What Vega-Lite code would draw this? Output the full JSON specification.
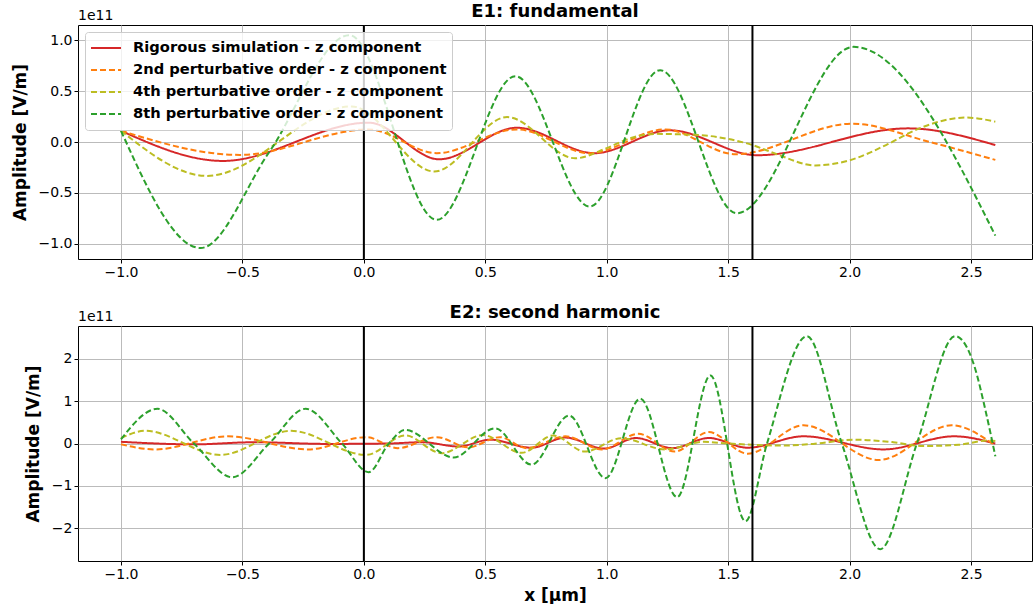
{
  "$schema": "https://vega.github.io/schema/vega-lite/v6.json",
  "padding": {"left": 10, "top": 2, "right": 0, "bottom": 0},
  "config": {
    "font": "DejaVu Sans",
    "view": {"stroke": "black", "strokeWidth": 1},
    "axis": {
      "labelFont": "DejaVu Sans", "labelFontSize": 14, "labelColor": "black",
      "tickColor": "black", "tickSize": 4, "tickWidth": 1,
      "gridColor": "#bbbbbb", "gridWidth": 1,
      "domain": false,
      "titleFont": "DejaVu Sans", "titleFontSize": 17, "titleFontWeight": "bold", "titleColor": "black"
    },
    "title": {"font": "DejaVu Sans", "fontSize": 18, "fontWeight": "bold", "color": "black", "offset": -12, "frame": "group"}
  },
  "datasets": {
    "e1": [
      {"s": "Rigorous simulation - z component", "x": -1.0, "y": 0.11},
      {"s": "Rigorous simulation - z component", "x": -0.58, "y": -0.186},
      {"s": "Rigorous simulation - z component", "x": 0.02, "y": 0.19},
      {"s": "Rigorous simulation - z component", "x": 0.31, "y": -0.17},
      {"s": "Rigorous simulation - z component", "x": 0.63, "y": 0.14},
      {"s": "Rigorous simulation - z component", "x": 0.95, "y": -0.11},
      {"s": "Rigorous simulation - z component", "x": 1.26, "y": 0.115},
      {"s": "Rigorous simulation - z component", "x": 1.62, "y": -0.13},
      {"s": "Rigorous simulation - z component", "x": 2.24, "y": 0.134},
      {"s": "Rigorous simulation - z component", "x": 2.6, "y": -0.03},
      {"s": "2nd perturbative order - z component", "x": -1.0, "y": 0.11},
      {"s": "2nd perturbative order - z component", "x": -0.51, "y": -0.127},
      {"s": "2nd perturbative order - z component", "x": 0.02, "y": 0.124},
      {"s": "2nd perturbative order - z component", "x": 0.30, "y": -0.11},
      {"s": "2nd perturbative order - z component", "x": 0.63, "y": 0.124},
      {"s": "2nd perturbative order - z component", "x": 0.93, "y": -0.11},
      {"s": "2nd perturbative order - z component", "x": 1.24, "y": 0.124},
      {"s": "2nd perturbative order - z component", "x": 1.53, "y": -0.12},
      {"s": "2nd perturbative order - z component", "x": 2.01, "y": 0.18},
      {"s": "2nd perturbative order - z component", "x": 2.33, "y": 0.0},
      {"s": "2nd perturbative order - z component", "x": 2.6, "y": -0.176},
      {"s": "4th perturbative order - z component", "x": -1.0, "y": 0.11},
      {"s": "4th perturbative order - z component", "x": -0.645, "y": -0.333},
      {"s": "4th perturbative order - z component", "x": -0.05, "y": 0.35},
      {"s": "4th perturbative order - z component", "x": 0.29, "y": -0.29},
      {"s": "4th perturbative order - z component", "x": 0.59, "y": 0.245},
      {"s": "4th perturbative order - z component", "x": 0.87, "y": -0.16},
      {"s": "4th perturbative order - z component", "x": 1.0, "y": -0.06},
      {"s": "4th perturbative order - z component", "x": 1.1, "y": 0.04},
      {"s": "4th perturbative order - z component", "x": 1.2, "y": 0.08},
      {"s": "4th perturbative order - z component", "x": 1.3, "y": 0.075},
      {"s": "4th perturbative order - z component", "x": 1.42, "y": 0.06},
      {"s": "4th perturbative order - z component", "x": 1.5, "y": 0.03},
      {"s": "4th perturbative order - z component", "x": 1.6, "y": -0.03},
      {"s": "4th perturbative order - z component", "x": 1.7, "y": -0.12},
      {"s": "4th perturbative order - z component", "x": 1.86, "y": -0.23},
      {"s": "4th perturbative order - z component", "x": 2.0, "y": -0.18},
      {"s": "4th perturbative order - z component", "x": 2.15, "y": -0.03},
      {"s": "4th perturbative order - z component", "x": 2.28, "y": 0.127},
      {"s": "4th perturbative order - z component", "x": 2.48, "y": 0.24},
      {"s": "4th perturbative order - z component", "x": 2.6, "y": 0.2},
      {"s": "8th perturbative order - z component", "x": -1.0, "y": 0.11},
      {"s": "8th perturbative order - z component", "x": -0.672, "y": -1.042},
      {"s": "8th perturbative order - z component", "x": -0.39, "y": -0.1},
      {"s": "8th perturbative order - z component", "x": -0.06, "y": 1.05},
      {"s": "8th perturbative order - z component", "x": 0.3, "y": -0.765},
      {"s": "8th perturbative order - z component", "x": 0.624, "y": 0.647},
      {"s": "8th perturbative order - z component", "x": 0.93, "y": -0.634},
      {"s": "8th perturbative order - z component", "x": 1.22, "y": 0.706},
      {"s": "8th perturbative order - z component", "x": 1.535, "y": -0.70},
      {"s": "8th perturbative order - z component", "x": 2.016, "y": 0.935},
      {"s": "8th perturbative order - z component", "x": 2.6, "y": -0.92}
    ],
    "e2": [
      {"s": "Rigorous simulation - z component", "x": -1.0, "y": 0.04},
      {"s": "Rigorous simulation - z component", "x": -0.7, "y": -0.02},
      {"s": "Rigorous simulation - z component", "x": -0.45, "y": 0.03},
      {"s": "Rigorous simulation - z component", "x": -0.15, "y": -0.01},
      {"s": "Rigorous simulation - z component", "x": 0.1, "y": 0.0},
      {"s": "Rigorous simulation - z component", "x": 0.24, "y": 0.03},
      {"s": "Rigorous simulation - z component", "x": 0.39, "y": -0.07},
      {"s": "Rigorous simulation - z component", "x": 0.52, "y": 0.09},
      {"s": "Rigorous simulation - z component", "x": 0.69, "y": -0.1},
      {"s": "Rigorous simulation - z component", "x": 0.83, "y": 0.14},
      {"s": "Rigorous simulation - z component", "x": 0.99, "y": -0.12},
      {"s": "Rigorous simulation - z component", "x": 1.12, "y": 0.13},
      {"s": "Rigorous simulation - z component", "x": 1.27, "y": -0.11},
      {"s": "Rigorous simulation - z component", "x": 1.42, "y": 0.13},
      {"s": "Rigorous simulation - z component", "x": 1.58, "y": -0.1},
      {"s": "Rigorous simulation - z component", "x": 1.81, "y": 0.17},
      {"s": "Rigorous simulation - z component", "x": 2.14, "y": -0.14},
      {"s": "Rigorous simulation - z component", "x": 2.43, "y": 0.17},
      {"s": "Rigorous simulation - z component", "x": 2.6, "y": 0.0},
      {"s": "2nd perturbative order - z component", "x": -1.0, "y": -0.02},
      {"s": "2nd perturbative order - z component", "x": -0.86, "y": -0.14},
      {"s": "2nd perturbative order - z component", "x": -0.56, "y": 0.17},
      {"s": "2nd perturbative order - z component", "x": -0.23, "y": -0.14},
      {"s": "2nd perturbative order - z component", "x": 0.01, "y": 0.15},
      {"s": "2nd perturbative order - z component", "x": 0.14, "y": -0.11},
      {"s": "2nd perturbative order - z component", "x": 0.30, "y": 0.15},
      {"s": "2nd perturbative order - z component", "x": 0.43, "y": -0.09},
      {"s": "2nd perturbative order - z component", "x": 0.56, "y": 0.15},
      {"s": "2nd perturbative order - z component", "x": 0.67, "y": -0.11},
      {"s": "2nd perturbative order - z component", "x": 0.83, "y": 0.17},
      {"s": "2nd perturbative order - z component", "x": 0.98, "y": -0.14},
      {"s": "2nd perturbative order - z component", "x": 1.13, "y": 0.23},
      {"s": "2nd perturbative order - z component", "x": 1.28, "y": -0.19},
      {"s": "2nd perturbative order - z component", "x": 1.42, "y": 0.27},
      {"s": "2nd perturbative order - z component", "x": 1.58, "y": -0.24},
      {"s": "2nd perturbative order - z component", "x": 1.81, "y": 0.43},
      {"s": "2nd perturbative order - z component", "x": 2.12, "y": -0.39},
      {"s": "2nd perturbative order - z component", "x": 2.42, "y": 0.43},
      {"s": "2nd perturbative order - z component", "x": 2.6, "y": -0.05},
      {"s": "4th perturbative order - z component", "x": -1.0, "y": 0.13},
      {"s": "4th perturbative order - z component", "x": -0.9, "y": 0.3},
      {"s": "4th perturbative order - z component", "x": -0.59, "y": -0.27},
      {"s": "4th perturbative order - z component", "x": -0.30, "y": 0.3},
      {"s": "4th perturbative order - z component", "x": 0.01, "y": -0.27},
      {"s": "4th perturbative order - z component", "x": 0.17, "y": 0.19},
      {"s": "4th perturbative order - z component", "x": 0.32, "y": -0.23},
      {"s": "4th perturbative order - z component", "x": 0.49, "y": 0.2},
      {"s": "4th perturbative order - z component", "x": 0.65, "y": -0.22},
      {"s": "4th perturbative order - z component", "x": 0.78, "y": 0.19},
      {"s": "4th perturbative order - z component", "x": 0.91, "y": -0.19},
      {"s": "4th perturbative order - z component", "x": 1.06, "y": 0.125},
      {"s": "4th perturbative order - z component", "x": 1.24, "y": -0.14},
      {"s": "4th perturbative order - z component", "x": 1.4, "y": 0.04},
      {"s": "4th perturbative order - z component", "x": 1.5, "y": 0.0},
      {"s": "4th perturbative order - z component", "x": 1.6, "y": -0.03},
      {"s": "4th perturbative order - z component", "x": 1.72, "y": -0.05},
      {"s": "4th perturbative order - z component", "x": 1.85, "y": -0.01},
      {"s": "4th perturbative order - z component", "x": 2.02, "y": 0.09},
      {"s": "4th perturbative order - z component", "x": 2.18, "y": 0.03},
      {"s": "4th perturbative order - z component", "x": 2.3, "y": -0.06},
      {"s": "4th perturbative order - z component", "x": 2.45, "y": -0.03},
      {"s": "4th perturbative order - z component", "x": 2.57, "y": 0.07},
      {"s": "4th perturbative order - z component", "x": 2.6, "y": 0.06},
      {"s": "8th perturbative order - z component", "x": -1.0, "y": 0.1},
      {"s": "8th perturbative order - z component", "x": -0.85, "y": 0.82},
      {"s": "8th perturbative order - z component", "x": -0.70, "y": 0.0},
      {"s": "8th perturbative order - z component", "x": -0.542, "y": -0.8},
      {"s": "8th perturbative order - z component", "x": -0.39, "y": 0.0},
      {"s": "8th perturbative order - z component", "x": -0.24, "y": 0.82},
      {"s": "8th perturbative order - z component", "x": -0.09, "y": 0.0},
      {"s": "8th perturbative order - z component", "x": 0.02, "y": -0.68},
      {"s": "8th perturbative order - z component", "x": 0.103, "y": 0.0},
      {"s": "8th perturbative order - z component", "x": 0.17, "y": 0.32},
      {"s": "8th perturbative order - z component", "x": 0.37, "y": -0.33},
      {"s": "8th perturbative order - z component", "x": 0.54, "y": 0.36},
      {"s": "8th perturbative order - z component", "x": 0.69, "y": -0.5},
      {"s": "8th perturbative order - z component", "x": 0.845, "y": 0.66},
      {"s": "8th perturbative order - z component", "x": 0.995, "y": -0.82},
      {"s": "8th perturbative order - z component", "x": 1.138, "y": 1.06},
      {"s": "8th perturbative order - z component", "x": 1.29, "y": -1.27},
      {"s": "8th perturbative order - z component", "x": 1.427, "y": 1.61},
      {"s": "8th perturbative order - z component", "x": 1.571, "y": -1.84},
      {"s": "8th perturbative order - z component", "x": 1.66, "y": 0.0},
      {"s": "8th perturbative order - z component", "x": 1.824, "y": 2.54},
      {"s": "8th perturbative order - z component", "x": 1.968, "y": 0.0},
      {"s": "8th perturbative order - z component", "x": 2.126, "y": -2.5},
      {"s": "8th perturbative order - z component", "x": 2.277, "y": 0.0},
      {"s": "8th perturbative order - z component", "x": 2.435, "y": 2.54},
      {"s": "8th perturbative order - z component", "x": 2.517, "y": 1.77},
      {"s": "8th perturbative order - z component", "x": 2.558, "y": 0.82},
      {"s": "8th perturbative order - z component", "x": 2.6, "y": -0.3}
    ]
  },
  "vconcat": [
    {
      "title": "E1: fundamental",
      "width": 954,
      "height": 234,
      "layer": [
        {
          "data": {"name": "e1"},
          "mark": {"type": "line", "interpolate": "monotone", "strokeWidth": 2},
          "encoding": {
            "x": {"field": "x", "type": "quantitative", "scale": {"domain": [-1.177, 2.751], "nice": false, "zero": false},
                  "axis": {"values": [-1, -0.5, 0, 0.5, 1, 1.5, 2, 2.5], "format": ".1f", "title": null}},
            "y": {"field": "y", "type": "quantitative", "scale": {"domain": [-1.15, 1.15], "nice": false, "zero": false},
                  "axis": {"values": [-1, -0.5, 0, 0.5, 1], "format": ".1f", "title": "Amplitude [V/m]", "titlePadding": 9}},
            "color": {"field": "s", "type": "nominal",
                      "scale": {"domain": ["Rigorous simulation - z component", "2nd perturbative order - z component", "4th perturbative order - z component", "8th perturbative order - z component"],
                                "range": ["#d62728", "#ff7f0e", "#bcbd22", "#2ca02c"]},
                      "legend": {"orient": "top-left", "offset": 7, "title": null, "labelFontWeight": "bold", "labelFontSize": 14.7, "labelColor": "black",
                                 "symbolType": "stroke", "symbolSize": 900, "symbolStrokeWidth": 2, "fillColor": "rgba(255,255,255,0.8)",
                                 "strokeColor": "#cccccc", "cornerRadius": 3, "padding": 5, "rowPadding": 0, "clipHeight": 22, "labelOffset": 11, "labelLimit": 500}},
            "strokeDash": {"field": "s", "type": "nominal",
                      "scale": {"domain": ["Rigorous simulation - z component", "2nd perturbative order - z component", "4th perturbative order - z component", "8th perturbative order - z component"],
                                "range": [[1, 0], [6, 3], [6, 3], [6, 3]]},
                      "legend": {"orient": "top-left", "offset": 7, "title": null}}
          }
        },
        {
          "data": {"values": [{"v": 0}, {"v": 1.6}]},
          "mark": {"type": "rule", "color": "black", "strokeWidth": 2},
          "encoding": {"x": {"field": "v", "type": "quantitative"}}
        },
        {
          "data": {"values": [{"t": "1e11"}]},
          "mark": {"type": "text", "align": "left", "baseline": "alphabetic", "dy": -5, "fontSize": 14, "color": "black"},
          "encoding": {"text": {"field": "t"}, "x": {"datum": -1.177}, "y": {"datum": 1.15}}
        }
      ]
    },
    {
      "title": "E2: second harmonic",
      "width": 954,
      "height": 235,
      "layer": [
        {
          "data": {"name": "e2"},
          "mark": {"type": "line", "interpolate": "monotone", "strokeWidth": 2},
          "encoding": {
            "x": {"field": "x", "type": "quantitative", "scale": {"domain": [-1.177, 2.751], "nice": false, "zero": false},
                  "axis": {"values": [-1, -0.5, 0, 0.5, 1, 1.5, 2, 2.5], "format": ".1f", "title": "x [µm]", "titlePadding": 6}},
            "y": {"field": "y", "type": "quantitative", "scale": {"domain": [-2.78, 2.78], "nice": false, "zero": false},
                  "axis": {"values": [-2, -1, 0, 1, 2], "format": "d", "title": "Amplitude [V/m]", "titlePadding": 9}},
            "color": {"field": "s", "type": "nominal",
                      "scale": {"domain": ["Rigorous simulation - z component", "2nd perturbative order - z component", "4th perturbative order - z component", "8th perturbative order - z component"],
                                "range": ["#d62728", "#ff7f0e", "#bcbd22", "#2ca02c"]},
                      "legend": null},
            "strokeDash": {"field": "s", "type": "nominal",
                      "scale": {"domain": ["Rigorous simulation - z component", "2nd perturbative order - z component", "4th perturbative order - z component", "8th perturbative order - z component"],
                                "range": [[1, 0], [6, 3], [6, 3], [6, 3]]},
                      "legend": null}
          }
        },
        {
          "data": {"values": [{"v": 0}, {"v": 1.6}]},
          "mark": {"type": "rule", "color": "black", "strokeWidth": 2},
          "encoding": {"x": {"field": "v", "type": "quantitative"}}
        },
        {
          "data": {"values": [{"t": "1e11"}]},
          "mark": {"type": "text", "align": "left", "baseline": "alphabetic", "dy": -5, "fontSize": 14, "color": "black"},
          "encoding": {"text": {"field": "t"}, "x": {"datum": -1.177}, "y": {"datum": 2.78}}
        }
      ]
    }
  ],
  "resolve": {"scale": {"color": "independent", "strokeDash": "independent", "x": "independent", "y": "independent"}, "legend": {"color": "independent", "strokeDash": "independent"}},
  "spacing": 23
}
